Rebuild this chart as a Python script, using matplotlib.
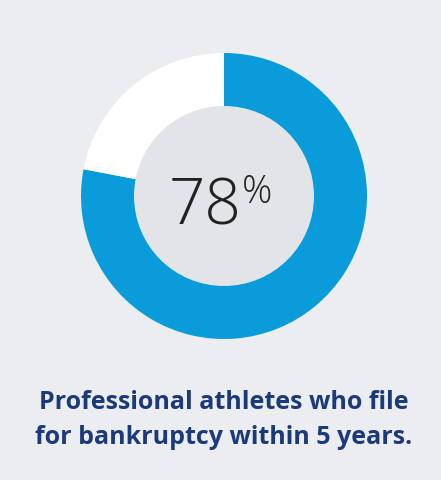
import matplotlib

matplotlib.use("Agg")
import matplotlib.pyplot as plt
from matplotlib.patches import Circle

# data
labels = ["Bankrupt within 5 years", "Other"]
values = [78, 22]
headline = "78"
caption = ["Professional athletes who file", "for bankruptcy within 5 years."]

BG = "#ECEDF0"
INNER = "#E3E4E7"
BLUE = "#0A9BDA"
NAVY = "#1B3A7C"

W, H = 441, 481
fig = plt.figure(figsize=(W / 100, H / 100), dpi=100, facecolor=BG)
ax = fig.add_axes([0, 0, 1, 1])
ax.set_facecolor(BG)

cx, cy, r_out, r_in = 224, H - 197, 143, 90
ax.pie(values, colors=[BLUE, "white"], startangle=90, counterclock=False,
       center=(cx, cy), radius=r_out, frame=True,
       wedgeprops=dict(linewidth=0))
ax.add_patch(Circle((cx, cy), r_in, facecolor=INNER, edgecolor="none", zorder=3))

ax.set_xlim(0, W)
ax.set_ylim(0, H)
ax.set_aspect("equal")
ax.axis("off")

ax.text(242, H - 225, headline, ha="right", va="baseline", fontsize=46,
        family=["Open Sans", "DejaVu Sans"], fontweight="light", color="#222222", zorder=4)
ax.text(242, H - 203, "%", ha="left", va="baseline", fontsize=27,
        family=["Open Sans", "DejaVu Sans"], fontweight="light", color="#222222", zorder=4)

for i, line in enumerate(caption):
    ax.text(cx, H - 409 - i * 35, line, ha="center", va="baseline", fontsize=18,
            family=["Open Sans", "DejaVu Sans"], fontweight="bold", color=NAVY)

fig.savefig("out.png", dpi=100, facecolor=BG)
